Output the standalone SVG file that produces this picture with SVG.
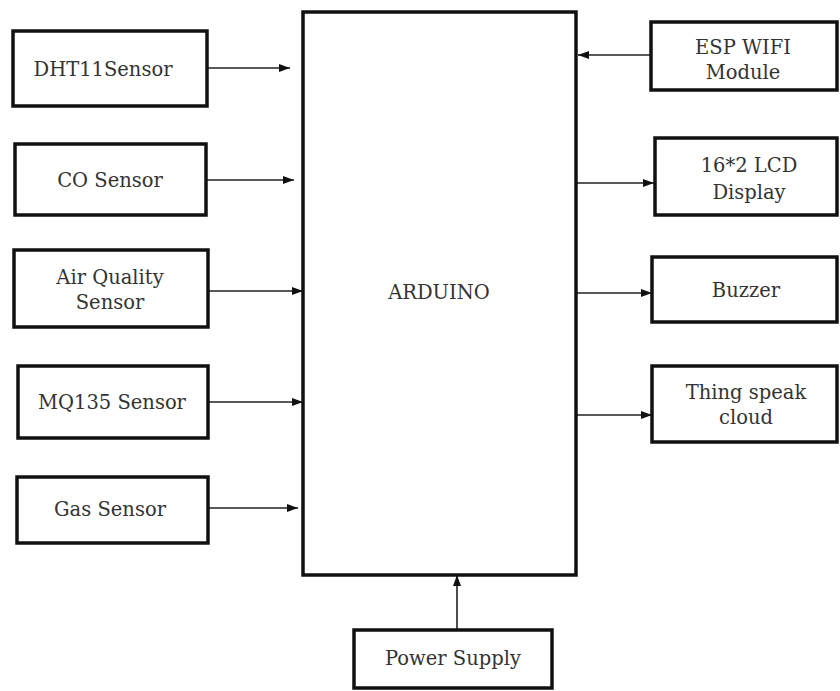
<svg xmlns="http://www.w3.org/2000/svg" width="840" height="691" viewBox="0 0 840 691">
<style>
.box{fill:#fff;stroke:#111;stroke-width:3.5}
.lbl{font-family:'DejaVu Serif','Liberation Serif',serif;font-size:19.5px;fill:#333;text-anchor:middle;dominant-baseline:central}
.edge{stroke:#222;stroke-width:1.6;fill:none;marker-end:url(#ah)}
</style>
<defs>
<marker id="ah" markerUnits="userSpaceOnUse" markerWidth="12" markerHeight="10" refX="11" refY="5" orient="auto">
<path d="M0,1 L11,5 L0,9 Z" fill="#111"/>
</marker>
</defs>
<rect width="840" height="691" fill="#fff"/>
<g id="connectors">
<line class="edge" x1="207" y1="68" x2="290" y2="68"/>
<line class="edge" x1="206" y1="180" x2="294" y2="180"/>
<line class="edge" x1="208" y1="291" x2="303" y2="291"/>
<line class="edge" x1="208" y1="402" x2="303" y2="402"/>
<line class="edge" x1="208" y1="508" x2="298" y2="508"/>
<line class="edge" x1="651" y1="55" x2="578" y2="55"/>
<line class="edge" x1="576" y1="183" x2="654" y2="183"/>
<line class="edge" x1="576" y1="293" x2="652" y2="293"/>
<line class="edge" x1="576" y1="415" x2="652" y2="415"/>
<line class="edge" x1="457" y1="630" x2="457" y2="575"/>
</g>
<g id="arduino"><rect class="box" x="303" y="12" width="273" height="563"/><text class="lbl" x="439" y="292">ARDUINO</text></g>
<g id="dht11"><rect class="box" x="13" y="31" width="194" height="75"/><text class="lbl" x="103" y="69">DHT11Sensor</text></g>
<g id="co"><rect class="box" x="15" y="144" width="191" height="71"/><text class="lbl" x="110" y="180">CO Sensor</text></g>
<g id="airquality"><rect class="box" x="14" y="250" width="194" height="77"/><text class="lbl" x="110" y="277">Air Quality</text><text class="lbl" x="110" y="302">Sensor</text></g>
<g id="mq135"><rect class="box" x="18" y="366" width="190" height="72"/><text class="lbl" x="112" y="402">MQ135 Sensor</text></g>
<g id="gas"><rect class="box" x="17" y="477" width="191" height="66"/><text class="lbl" x="110" y="509">Gas Sensor</text></g>
<g id="esp"><rect class="box" x="651" y="22" width="186" height="68"/><text class="lbl" x="743" y="47">ESP WIFI</text><text class="lbl" x="743" y="72">Module</text></g>
<g id="lcd"><rect class="box" x="655" y="138" width="182" height="77"/><text class="lbl" x="749" y="165">16*2 LCD</text><text class="lbl" x="749" y="192">Display</text></g>
<g id="buzzer"><rect class="box" x="652" y="257" width="185" height="65"/><text class="lbl" x="746" y="290">Buzzer</text></g>
<g id="thingspeak"><rect class="box" x="652" y="366" width="185" height="76"/><text class="lbl" x="746" y="392">Thing speak</text><text class="lbl" x="746" y="417">cloud</text></g>
<g id="power"><rect class="box" x="354" y="630" width="198" height="58"/><text class="lbl" x="453" y="658">Power Supply</text></g>
</svg>
